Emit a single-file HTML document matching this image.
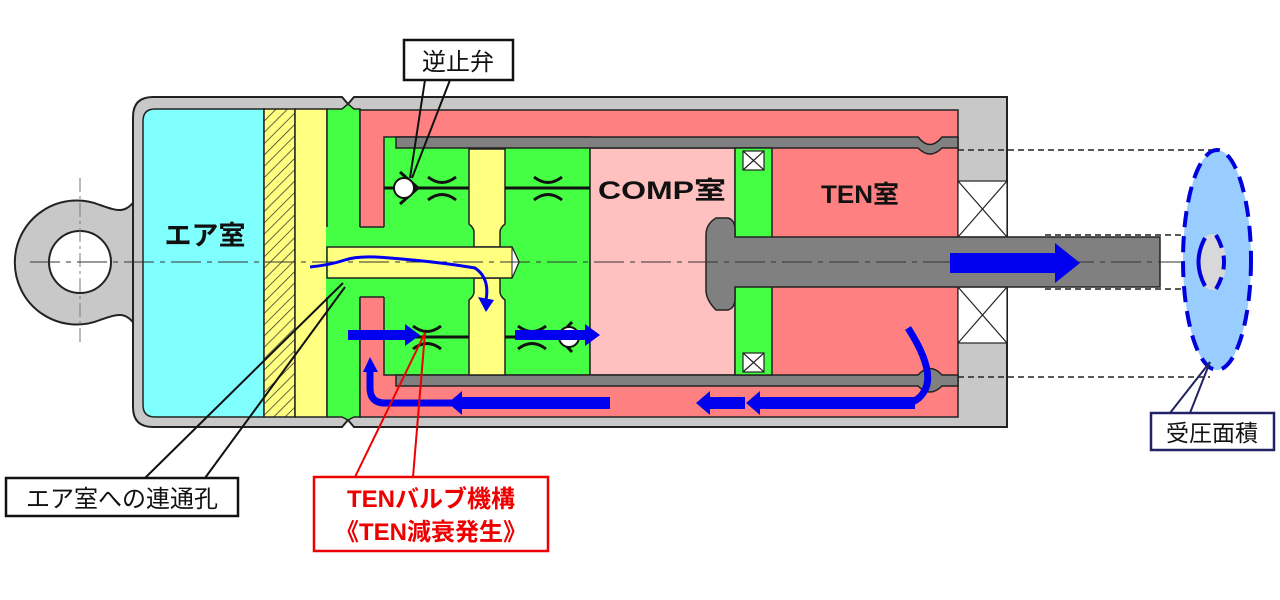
<!DOCTYPE html>
<html><head><meta charset="utf-8"><style>
html,body{margin:0;padding:0;background:#fff;}
svg{display:block;}
text{font-family:"Liberation Sans","Noto Sans CJK JP",sans-serif;}
</style></head><body>
<svg width="1280" height="600" viewBox="0 0 1280 600" xmlns="http://www.w3.org/2000/svg">
<defs>
<pattern id="hatch" width="8" height="8" patternUnits="userSpaceOnUse" patternTransform="rotate(45)">
<rect width="8" height="8" fill="#ffff80"/><line x1="0" y1="0" x2="0" y2="8" stroke="#333" stroke-width="1.5"/>
</pattern>
</defs>
<!-- eye -->
<path d="M135,200 C125,215 115,210 100,205 A62,62 0 1 0 100,320 C115,315 125,310 135,325 Z" fill="#c8c8c8" stroke="#222" stroke-width="2"/>
<circle cx="80" cy="262" r="31" fill="#fff" stroke="#222" stroke-width="2"/>
<line x1="80" y1="178" x2="80" y2="346" stroke="#777" stroke-width="1" stroke-dasharray="14,4,3,4"/>
<!-- casing -->
<path d="M153,97 L342,97 L348,104 L354,97 L1007,97 L1007,427 L354,427 L348,420 L342,427 L153,427 Q133,427 133,407 L133,117 Q133,97 153,97 Z" fill="#c8c8c8" stroke="#222" stroke-width="2"/>
<!-- cyan -->
<path d="M155,109 L264,109 L264,417 L155,417 Q143,417 143,405 L143,121 Q143,109 155,109 Z" fill="#80ffff" stroke="#222" stroke-width="1.5"/>
<rect x="264" y="109" width="31" height="308" fill="url(#hatch)" stroke="#222" stroke-width="1.5"/>
<rect x="295" y="109" width="32" height="308" fill="#ffff80" stroke="#222" stroke-width="1.5"/>
<!-- green column -->
<path d="M327,109 L342,109 L348,104 L354,109 L360,109 L360,417 L354,417 L348,420 L342,417 L327,417 Z" fill="#44ff44" stroke="#222" stroke-width="1.5"/>
<!-- red -->
<rect x="360" y="110" width="598" height="307" fill="#ff8080" stroke="#222" stroke-width="1.5"/>
<!-- green inner -->
<rect x="384" y="137" width="206" height="238" fill="#44ff44" stroke="#222" stroke-width="1.5"/>
<rect x="326" y="227" width="60" height="70" fill="#44ff44"/>
<line x1="360" y1="227" x2="384" y2="227" stroke="#222" stroke-width="1.5"/>
<line x1="360" y1="297" x2="384" y2="297" stroke="#222" stroke-width="1.5"/>
<!-- COMP -->
<rect x="590" y="148" width="145" height="227" fill="#ffc0c0" stroke="#222" stroke-width="1.5"/>
<!-- tubes -->
<path d="M396,137 L918,137 Q930,152 942,137 L958,137 L958,148 L942,148 Q930,160 918,148 L396,148 Z" fill="#808080" stroke="#222" stroke-width="1.5"/>
<path d="M396,375 L918,375 Q930,362 942,375 L958,375 L958,386 L942,386 Q930,398 918,386 L396,386 Z" fill="#808080" stroke="#222" stroke-width="1.5"/>
<!-- piston -->
<rect x="735" y="148" width="37" height="100" fill="#44ff44" stroke="#222" stroke-width="1.5"/>
<rect x="735" y="278" width="37" height="97" fill="#44ff44" stroke="#222" stroke-width="1.5"/>
<g stroke="#222" stroke-width="1.2" fill="#fff">
<rect x="743" y="151" width="21" height="19"/><line x1="743" y1="151" x2="764" y2="170"/><line x1="764" y1="151" x2="743" y2="170"/>
<rect x="743" y="353" width="21" height="19"/><line x1="743" y1="353" x2="764" y2="372"/><line x1="764" y1="353" x2="743" y2="372"/>
</g>
<!-- seals -->
<g stroke="#222" stroke-width="1.2" fill="#fff">
<rect x="958" y="181" width="49" height="56"/><line x1="958" y1="181" x2="1007" y2="237"/><line x1="1007" y1="181" x2="958" y2="237"/>
<rect x="958" y="287" width="49" height="56"/><line x1="958" y1="287" x2="1007" y2="343"/><line x1="1007" y1="287" x2="958" y2="343"/>
</g>
<!-- rod -->
<path d="M716,218 L728,218 Q735,220 735,230 L735,237 L1160,237 L1160,287 L735,287 L735,298 Q735,308 728,310 L716,310 Q706,300 706,290 L706,235 Q706,224 716,218 Z" fill="#808080" stroke="#222" stroke-width="1.5"/>
<!-- yellow rod & post -->
<path d="M469,149 L505,149 L505,224 Q500,228 500,232 L500,247 L474,247 L474,232 Q474,228 469,224 Z" fill="#ffff80" stroke="#222" stroke-width="1.5"/>
<path d="M474,278 L500,278 L500,292 Q500,296 505,300 L505,375 L469,375 L469,300 Q474,296 474,292 Z" fill="#ffff80" stroke="#222" stroke-width="1.5"/>
<path d="M327,247 L512,247 L519,262 L512,278 L327,278 Z" fill="#ffff80" stroke="#222" stroke-width="1.5"/>
<path d="M512,247 L519,262 L512,278 Z" fill="#fff" stroke="#222" stroke-width="1"/>
<!-- valve lines -->
<g stroke="#111" stroke-width="3" fill="none">
<line x1="384" y1="188" x2="469" y2="188"/><line x1="505" y1="188" x2="590" y2="188"/>
<line x1="384" y1="337" x2="469" y2="337"/><line x1="505" y1="337" x2="590" y2="337"/>
<path d="M428,177 Q442,188 456,177"/><path d="M428,200 Q442,189 456,200"/>
<path d="M534,177 Q548,188 562,177"/><path d="M534,200 Q548,189 562,200"/>
<path d="M413,326 Q427,337 441,326"/><path d="M413,349 Q427,338 441,349"/>
<path d="M518,326 Q532,337 546,326"/><path d="M518,349 Q532,338 546,349"/>
<line x1="400" y1="172" x2="418" y2="188"/><line x1="400" y1="204" x2="418" y2="188"/>
<line x1="572" y1="322" x2="558" y2="337"/><line x1="572" y1="352" x2="558" y2="337"/>
</g>
<circle cx="404" cy="188" r="10" fill="#fff" stroke="#111" stroke-width="2"/>
<circle cx="569" cy="337" r="10" fill="#fff" stroke="#111" stroke-width="2"/>
<!-- center line -->
<line x1="30" y1="262" x2="1200" y2="262" stroke="#333" stroke-width="1" stroke-dasharray="30,6,5,6"/>
<!-- dashed projection -->
<g stroke="#222" stroke-width="1.5" stroke-dasharray="6,4">
<line x1="958" y1="150" x2="1215" y2="150"/><line x1="958" y1="377" x2="1210" y2="377"/>
<line x1="1045" y1="235" x2="1215" y2="235"/><line x1="1045" y1="289" x2="1215" y2="289"/>
</g>
<!-- pressure ellipse -->
<ellipse cx="1217" cy="260" rx="34" ry="110" fill="#99ccff" stroke="#0000dd" stroke-width="4" stroke-dasharray="16,9"/>
<ellipse cx="1212" cy="262" rx="14" ry="28" fill="#d8d8d8"/>
<path d="M1205,238 Q1192,262 1205,286" fill="none" stroke="#0000dd" stroke-width="4"/>
<path d="M1216,235 Q1232,262 1216,289" fill="none" stroke="#0000dd" stroke-width="4" stroke-dasharray="14,8"/>
<!-- blue arrows -->
<g fill="#0000ee">
<polygon points="950,253 1055,253 1055,243 1080,263 1055,283 1055,273 950,273"/>
<polygon points="348,330 405,330 405,324 420,335 405,346 405,340 348,340"/>
<polygon points="515,330 585,330 585,324 600,335 585,346 585,340 515,340"/>
<polygon points="610,397 462,397 462,391 448,403 462,415 462,409 610,409"/>
<polygon points="915,397 760,397 760,391 746,403 760,415 760,409 915,409"/>
<polygon points="745,397 710,397 710,391 696,403 710,415 710,409 745,409"/>
<polygon points="363,372 370,357 378,372"/>
</g>
<path d="M452,403 L385,403 Q370,403 370,388 L370,370" fill="none" stroke="#0000ee" stroke-width="7"/>
<path d="M908,328 Q935,370 925,390 Q918,403 905,403" fill="none" stroke="#0000ee" stroke-width="7"/>
<path d="M310,267 Q330,265 345,260 Q360,255 390,258 Q440,262 475,268 Q490,278 486,300" fill="none" stroke="#0000ee" stroke-width="3"/>
<polygon points="478,297 494,300 486,312" fill="#0000ee"/>
<!-- labels -->
<text x="205" y="245" font-size="27" font-weight="bold" text-anchor="middle" fill="#111">エア室</text>
<text x="662" y="199" font-size="25" font-weight="bold" text-anchor="middle" fill="#111" textLength="128" lengthAdjust="spacingAndGlyphs">COMP室</text>
<text x="860" y="203" font-size="25" font-weight="bold" text-anchor="middle" fill="#111" textLength="78" lengthAdjust="spacingAndGlyphs">TEN室</text>
<!-- leaders -->
<g stroke="#111" stroke-width="2" fill="none">
<line x1="425" y1="80" x2="410" y2="178"/><line x1="450" y1="80" x2="412" y2="178"/>
<line x1="145" y1="478" x2="343" y2="283"/><line x1="205" y1="478" x2="345" y2="287"/>
</g>
<g stroke="#ee0000" stroke-width="2" fill="none">
<line x1="355" y1="477" x2="425" y2="333"/><line x1="413" y1="477" x2="425" y2="333"/>
</g>
<g stroke="#222266" stroke-width="2" fill="none">
<line x1="1170" y1="413" x2="1210" y2="362"/><line x1="1190" y1="413" x2="1210" y2="362"/>
</g>
<rect x="404" y="40" width="109" height="40" fill="#fff" stroke="#111" stroke-width="2.5"/>
<text x="458" y="70" font-size="24" text-anchor="middle" fill="#111">逆止弁</text>
<rect x="6" y="478" width="232" height="38" fill="#fff" stroke="#111" stroke-width="2.5"/>
<text x="122" y="507" font-size="24" text-anchor="middle" fill="#111">エア室への連通孔</text>
<rect x="314" y="477" width="234" height="74" fill="#fff" stroke="#ee0000" stroke-width="2.5"/>
<text x="431" y="507" font-size="24" font-weight="bold" text-anchor="middle" fill="#ee0000">TENバルブ機構</text>
<text x="431" y="540" font-size="24" font-weight="bold" text-anchor="middle" fill="#ee0000">《TEN減衰発生》</text>
<rect x="1151" y="413" width="123" height="37" fill="#fff" stroke="#222266" stroke-width="2.5"/>
<text x="1212" y="441" font-size="23" text-anchor="middle" fill="#111">受圧面積</text>
</svg>
</body></html>
